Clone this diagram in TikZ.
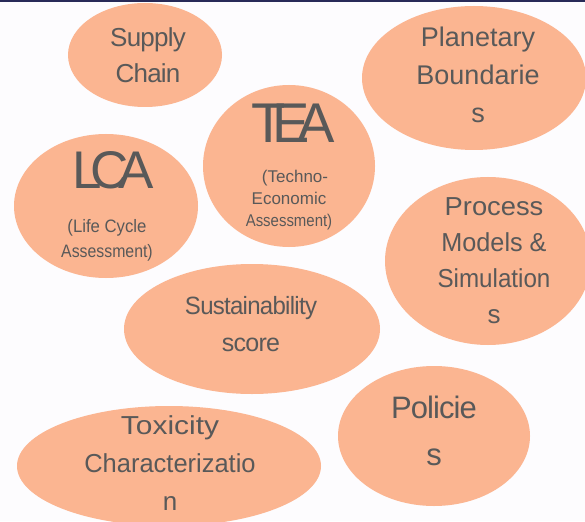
\documentclass[tikz,border=0pt]{standalone}
\usepackage{fontspec}
\setmainfont{Liberation Sans}
\newfontfamily\semitight[LetterSpace=-3]{Liberation Sans}
\definecolor{blob}{RGB}{251,181,145}
\definecolor{txt}{RGB}{89,89,89}
\definecolor{navy}{RGB}{40,42,88}
\definecolor{bgc}{RGB}{253,252,254}
\newcommand{\squeeze}[2]{\scalebox{#1}[1]{#2}}
\tikzset{
  blobshape/.style={fill=blob, draw=none},
  lbl/.style={text=txt, align=center, inner sep=0pt, anchor=center},
}
\begin{document}
\begin{tikzpicture}[x=1pt,y=-1pt]
\useasboundingbox (0,0) rectangle (585,521);
\fill[bgc] (0,0) rectangle (585,521);
\begin{scope}
\clip (0,0) rectangle (585,521);
\fill[blobshape] (145,55) ellipse [x radius=77, y radius=52];
\fill[blobshape] (474,78) ellipse [x radius=112, y radius=72];
\fill[blobshape] (289,166) ellipse [x radius=86, y radius=81];
\fill[blobshape] (106,206) ellipse [x radius=92, y radius=72];
\fill[blobshape] (488,261) ellipse [x radius=103, y radius=84];
\fill[blobshape] (252,329) ellipse [x radius=128, y radius=65];
\fill[blobshape] (434,436) ellipse [x radius=96, y radius=70];
\fill[blobshape] (169,466) ellipse [x radius=152, y radius=60];
\end{scope}
\fill[navy] (0,0) rectangle (585,2);
% Supply chain
\node[lbl, font=\semitight\fontsize{26}{36}\selectfont] (sc) at (148,55) {Supply\\Chain};
% Planetary
\node[lbl, font=\fontsize{27}{38}\selectfont] (pb) at (478,75) {Planetary\\Boundarie\\s};
% TEA
\node[lbl, font=\fontsize{56}{56}\selectfont] (tea) at (293,123) {T\kern-13pt E\kern-12pt A};
\node[lbl, font=\fontsize{17}{22}\selectfont] (teas) at (289,200) {\hspace*{12pt}(Techno-\\Economic\\\squeeze{0.88}{Assessment)}};
% LCA
\node[lbl, font=\fontsize{53}{53}\selectfont] (lca) at (113,170) {L\kern-11pt C\kern-11pt A};
\node[lbl, font=\fontsize{18}{25}\selectfont] (lcas) at (107,240) {\squeeze{0.93}{(Life Cycle}\\\squeeze{0.88}{Assessment)}};
% Process
\node[lbl, font=\fontsize{26}{36}\selectfont] (pm) at (494,261) {\squeeze{1.05}{Process}\\\squeeze{0.97}{Models \&}\\\squeeze{0.93}{Simulation}\\s};
% Sustainability
\node[lbl, font=\semitight\fontsize{25}{37}\selectfont] (ss) at (251,324) {\squeeze{0.96}{Sustainability}\\score};
% Policies
\node[lbl, font=\semitight\fontsize{31}{47}\selectfont] (po) at (434,431) {Policie\\s};
% Toxicity
\node[lbl, font=\fontsize{26}{38}\selectfont] (tc) at (170,463) {\squeeze{1.15}{Toxicity}\\\squeeze{0.98}{Characterizatio}\\n};
\end{tikzpicture}
\end{document}
